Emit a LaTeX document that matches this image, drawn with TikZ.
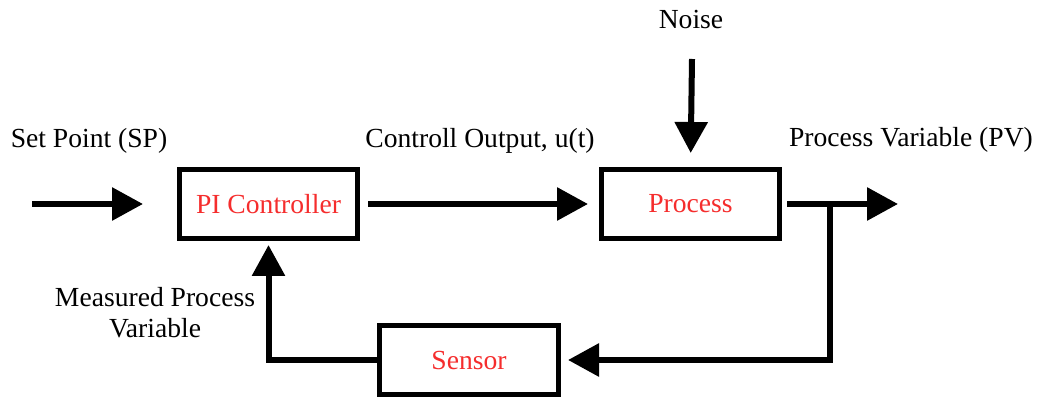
\documentclass[tikz,border=0pt]{standalone}
\usepackage{fontspec}
\setmainfont{Liberation Serif}
\usetikzlibrary{arrows.meta}
\definecolor{blockred}{RGB}{245,45,45}

\begin{document}
\begin{tikzpicture}[x=0.5pt,y=0.5pt,
  block/.style={rectangle,draw,line width=2.5pt,minimum width=89pt,minimum height=34.5pt,inner sep=0pt,text=blockred,font=\fontsize{13.8}{15.5}\selectfont},
  flow/.style={line width=3pt,-{Triangle[length=15.5pt,width=16pt]}},
  signal/.style={inner sep=0pt,anchor=base,font=\fontsize{13.8}{15.5}\selectfont}
]
\useasboundingbox (0,0) rectangle (1037,396);

\node[block] (ctrl) at (268.5,192) {PI Controller};
\node[block] (proc) at (690.5,192) {Process};
\node[block,minimum width=89.5pt] (sens) at (469,36) {Sensor};

\coordinate (sp) at (32,192);
\coordinate (nz) at (692,337);
\coordinate (pv) at (898,192);
\coordinate (split) at (830,192);

\node[signal] (splabel) at (89,248) {Set Point (SP)};
\node[signal] (ulabel) at (480,248) {Controll Output, u(t)};
\node[signal] (pvlabel) at (911,249) {Process Variable (PV)};
\node[signal] (noise) at (691,367) {Noise};
\node[signal,align=center] (mpv) at (155,59) {Measured Process\\Variable};

\draw[flow] (sp)--(143,192);
\draw[flow,shorten <=4pt,shorten >=5.5pt] (ctrl.east)--(proc.west);
\draw[flow,shorten >=7pt] (nz)--(proc.north);
\draw[flow,shorten <=2.5pt] (proc.east)--(pv);
\draw[flow,shorten >=3.5pt] (split)|-(sens.east);
\draw[flow,shorten >=2pt] (sens.west)-|(ctrl.south);
\end{tikzpicture}
\end{document}
